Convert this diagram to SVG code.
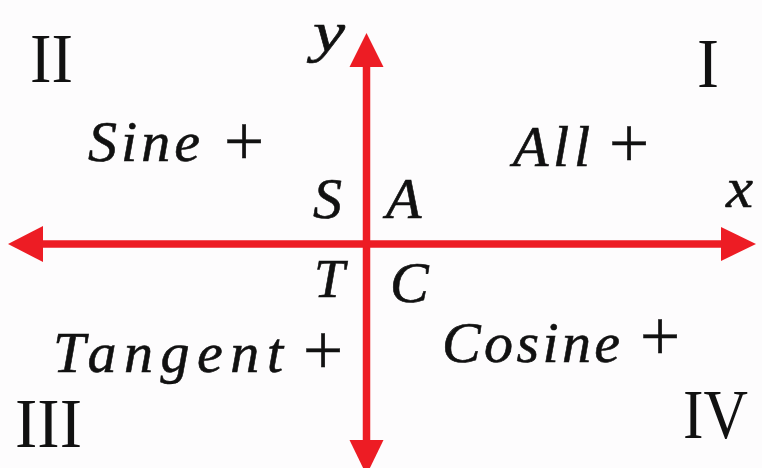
<svg xmlns="http://www.w3.org/2000/svg" width="762" height="468" viewBox="0 0 762 468">
<style>
.axis{stroke:#ED1C24;stroke-width:7.5;fill:none}
.head{fill:#ED1C24;stroke:none}
.it{font-family:"Liberation Serif","Times New Roman",serif;font-style:italic;fill:#111;stroke:#111;stroke-width:0.6;font-size:58px}
.rm{font-family:"Liberation Serif","Times New Roman",serif;fill:#111;font-size:70px}
.pl{font-family:"Liberation Serif","Times New Roman",serif;fill:#111;stroke:#111;stroke-width:0.3;font-size:72px;text-anchor:middle}
</style>
<rect x="0" y="0" width="762" height="468" fill="#FDFCFD"/>
<g id="axes">
<line class="axis" x1="40" y1="244" x2="724" y2="244"/>
<polygon class="head" points="8,244 43,226 43,262"/>
<polygon class="head" points="756,244 721,227 721,261"/>
<line class="axis" x1="366.5" y1="64" x2="366.5" y2="442"/>
<polygon class="head" points="366.5,33 349.5,67 383.5,67"/>
<polygon class="head" points="349.5,440 383.5,440 366.5,475"/>
</g>
<g id="label-x"><text class="it" x="726" y="207" textLength="27" lengthAdjust="spacingAndGlyphs">x</text></g>
<g id="label-y"><text class="it" x="313" y="51" textLength="32" lengthAdjust="spacingAndGlyphs">y</text></g>
<g id="quadrant-I"><text class="rm" x="697" y="87" textLength="22" lengthAdjust="spacingAndGlyphs">I</text></g>
<g id="quadrant-II"><text class="rm" x="30" y="82" textLength="43" lengthAdjust="spacingAndGlyphs">II</text></g>
<g id="quadrant-III"><text class="rm" x="15" y="447" textLength="67" lengthAdjust="spacingAndGlyphs">III</text></g>
<g id="quadrant-IV"><text class="rm" x="683" y="438" textLength="65" lengthAdjust="spacingAndGlyphs">IV</text></g>
<g id="sine"><text class="it" x="88" y="161" textLength="112" lengthAdjust="spacing">Sine</text><text class="pl" x="244" y="165">+</text></g>
<g id="all"><text class="it" x="513" y="166" textLength="77" lengthAdjust="spacing">All</text><text class="pl" x="629" y="167">+</text></g>
<g id="tangent"><text class="it" x="53" y="372" textLength="230" lengthAdjust="spacing">Tangent</text><text class="pl" x="323" y="374">+</text></g>
<g id="cosine"><text class="it" x="442" y="362" textLength="178" lengthAdjust="spacing">Cosine</text><text class="pl" x="660" y="360">+</text></g>
<g id="letter-S"><text class="it" x="313" y="218">S</text></g>
<g id="letter-A"><text class="it" x="386" y="218">A</text></g>
<g id="letter-T"><text class="it" x="314" y="297" style="font-size:55px">T</text></g>
<g id="letter-C"><text class="it" x="390" y="302">C</text></g>
</svg>
